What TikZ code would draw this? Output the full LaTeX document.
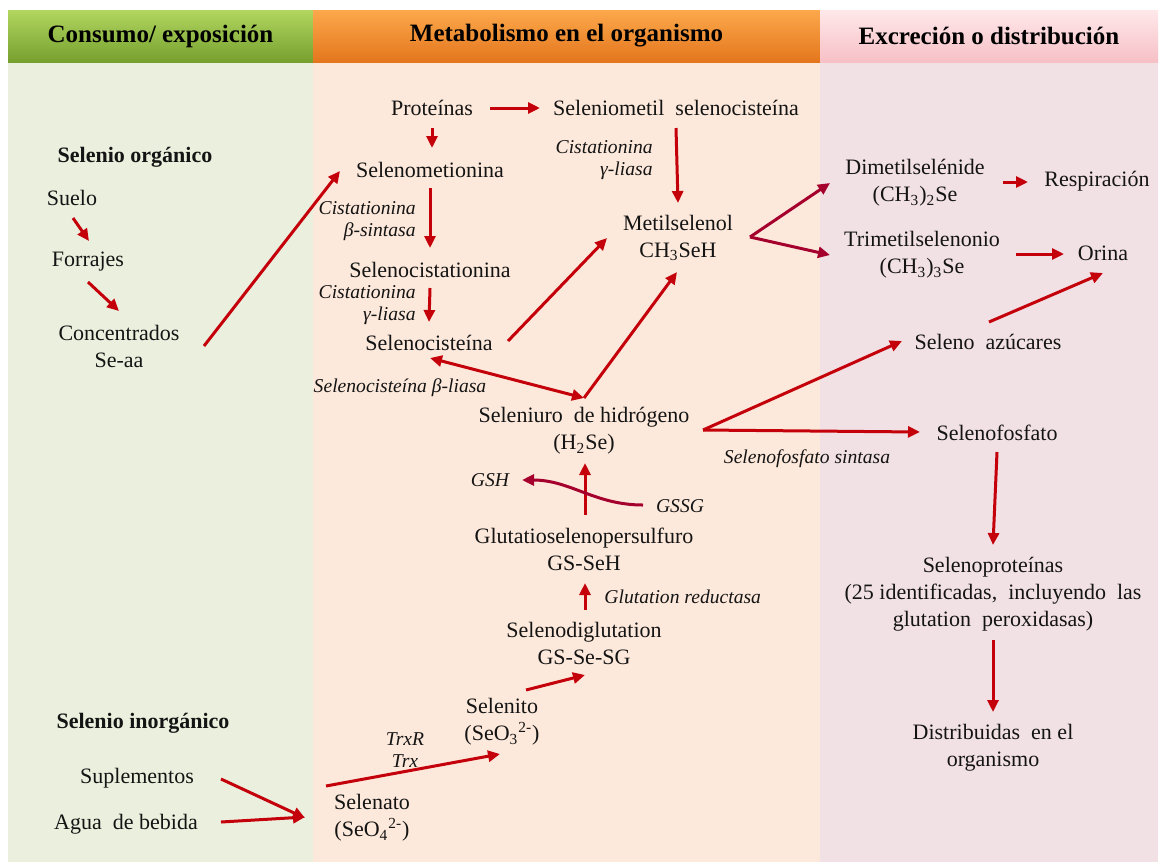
\documentclass[tikz,border=0pt]{standalone}
\usepackage{fontspec}
\setmainfont{Liberation Serif}
\usetikzlibrary{arrows.meta,calc}
\definecolor{ink}{RGB}{20,20,20}
\definecolor{arrow}{RGB}{196,0,10}
\definecolor{wine}{RGB}{165,0,45}
\definecolor{bgcons}{RGB}{235,240,222}
\definecolor{bgmeta}{RGB}{253,233,219}
\definecolor{bgexcr}{RGB}{242,225,228}
\definecolor{constop}{RGB}{178,214,96}
\definecolor{consbot}{RGB}{118,160,46}
\definecolor{metatop}{RGB}{252,168,76}
\definecolor{metabot}{RGB}{228,118,28}
\definecolor{excrtop}{RGB}{255,232,234}
\definecolor{excrbot}{RGB}{246,192,198}
\tikzset{
  txt/.style={inner sep=1pt, align=center, text=ink, font=\fontsize{11}{13.5}\selectfont},
  src/.style={txt, font=\fontsize{11}{13.5}\selectfont\bfseries},
  enz/.style={inner sep=1pt, align=right, text=ink, font=\fontsize{9.8}{11.2}\selectfont\itshape},
  head/.style={inner sep=0pt, minimum height=26pt, text=black, font=\fontsize{12.5}{14}\selectfont\bfseries},
  flow/.style={-{Triangle[length=6pt,width=5.5pt]}, line width=1.5pt, draw=arrow},
  flowdark/.style={flow, draw=wine},
  both/.style={{Triangle[length=6pt,width=5.5pt]}-{Triangle[length=6pt,width=5.5pt]}, line width=1.5pt, draw=arrow},
}

\begin{document}
\begin{tikzpicture}[x=0.5pt,y=-0.5pt]
  \useasboundingbox (0,0) rectangle (1160,863);
  % columns
  \fill[bgcons] (8,62) rectangle (313,862);
  \fill[bgmeta] (313,62) rectangle (820,862);
  \fill[bgexcr] (820,62) rectangle (1158,862);
  \node[head, top color=constop, bottom color=consbot, minimum width=152.5pt] (hcons) at (160.5,36) {Consumo/ exposición};
  \node[head, top color=metatop, bottom color=metabot, minimum width=253.5pt] (hmeta) at (566.5,36) {Metabolismo en el organismo};
  \node[head, top color=excrtop, bottom color=excrbot, minimum width=169pt] (hexcr) at (989,36) {Excreción o distribución};

  % consumo
  \node[src] (selorg) at (135,157) {Selenio orgánico};
  \node[txt] (suelo) at (72,198) {Suelo};
  \node[txt] (forrajes) at (88,262) {Forrajes};
  \node[txt] (concent) at (119,346) {Concentrados\\Se-aa};
  \node[src] (selinorg) at (143,723) {Selenio inorgánico};
  \node[txt] (suplem) at (137,778) {Suplementos};
  \node[txt] (agua) at (126,824) {Agua~ de bebida};

  % metabolismo
  \node[txt] (proteinas) at (432,108) {Proteínas};
  \node[txt] (selmetil) at (676,108) {Seleniometil~ selenocisteína};
  \node[txt] (selmet) at (430,170) {Selenometionina};
  \node[enz, anchor=east] (cisbeta) at (418,221) {Cistationina\\β-sintasa};
  \node[txt] (selcistat) at (430,270) {Selenocistationina};
  \node[enz, anchor=east] (cisgam1) at (418,305) {Cistationina\\γ-liasa};
  \node[txt] (selcis) at (429,343) {Selenocisteína};
  \node[enz, anchor=east] (cisgam2) at (655,160) {Cistationina\\γ-liasa};
  \node[txt] (metilsel) at (678,238) {Metilselenol\\CH\textsubscript{3}SeH};
  \node[enz] (liasa) at (400,388) {Selenocisteína β-liasa};
  \node[txt] (seleniuro) at (584,431) {Seleniuro~ de hidrógeno\\(H\textsubscript{2}Se)};
  \node[enz] (gsh) at (490,480) {GSH};
  \node[enz] (gssg) at (680,506) {GSSG};
  \node[txt] (glutatio) at (584,549) {Glutatioselenopersulfuro\\GS-SeH};
  \node[enz, anchor=west] (glured) at (602,597) {Glutation reductasa};
  \node[txt] (seldiglu) at (584,643) {Selenodiglutation\\GS-Se-SG};
  \node[txt] (selenito) at (502,722) {Selenito\\(SeO\textsubscript{3}\textsuperscript{2-})};
  \node[enz, align=center] (trx) at (405,750) {TrxR\\Trx};
  \node[txt] (selenato) at (372,818) {Selenato\\(SeO\textsubscript{4}\textsuperscript{2-})};
  \node[enz] (fossint) at (807,459) {Selenofosfato sintasa};

  % excrecion
  \node[txt] (dimetil) at (915,183) {Dimetilselénide\\(CH\textsubscript{3})\textsubscript{2}Se};
  \node[txt] (resp) at (1097,181) {Respiración};
  \node[txt] (trimetil) at (922,255) {Trimetilselenonio\\(CH\textsubscript{3})\textsubscript{3}Se};
  \node[txt] (orina) at (1103,253) {Orina};
  \node[txt] (azucares) at (988,342) {Seleno~ azúcares};
  \node[txt] (fosfato) at (997,433) {Selenofosfato};
  \node[txt] (selprot) at (993,594) {Selenoproteínas\\(25 identificadas,~ incluyendo~ las\\glutation~ peroxidasas)};
  \node[txt] (distrib) at (993,748) {Distribuidas~ en el\\organismo};

  \coordinate (hub) at ($(seleniuro)+(0,-33)$);
  \coordinate (split1) at ($(metilsel)+(72,-1)$);
  \coordinate (split2) at ($(seleniuro)+(119,-1)$);

  % arrows
  \draw[flow] ($(suelo)+(1,20)$) -- ($(forrajes)+(1,-21)$);
  \draw[flow] ($(forrajes)+(0,20)$) -- ($(concent)+(0,-35)$);
  \draw[flow] ($(concent)+(85,0)$) -- ($(selmet)+(-90,1)$);
  \draw[flow] ($(proteinas)+(0,20)$) -- ($(selmet)+(2,-22)$);
  \draw[flow] ($(proteinas)+(58,0)$) -- ($(selmetil)+(-136,0)$);
  \draw[flow] ($(selmet)+(0,18)$) -- ($(selcistat)+(0,-22)$);
  \draw[flow] ($(selcistat)+(0,18)$) -- ($(selcis)+(0,-21)$);
  \draw[flow] ($(selmetil)+(0,20)$) -- ($(metilsel)+(0,-35)$);
  \draw[flow] ($(selcis)+(79,-2)$) -- ($(metilsel)+(-71,0)$);
  \draw[both] ($(selcis)+(1,15)$) -- (hub);
  \draw[flow] (hub) -- ($(metilsel)+(-1,34)$);
  \draw[flowdark] (split1) -- ($(dimetil)+(-85,0)$);
  \draw[flowdark] (split1) -- ($(trimetil)+(-92,0)$);
  \draw[flow] ($(dimetil)+(88,-1)$) -- ($(resp)+(-69,1)$);
  \draw[flow] ($(trimetil)+(94,-1)$) -- ($(orina)+(-39,1)$);
  \draw[flow] ($(azucares)+(1,-20)$) -- ($(orina)+(0,20)$);
  \draw[flow] (split2) -- ($(azucares)+(-86,-1)$);
  \draw[flow] (split2) -- ($(fosfato)+(-77,-1)$);
  \draw[flow] ($(fosfato)+(0,19)$) -- ($(selprot)+(0,-49)$);
  \draw[flow] ($(selprot)+(0,46)$) -- ($(distrib)+(0,-36)$);
  \draw[flow] ($(glutatio)+(1,-34)$) -- ($(seleniuro)+(1,32)$);
  \draw[flowdark] ($(gssg)+(-37,-1)$) to[out=180,in=0] ($(gsh)+(32,0)$);
  \draw[flow] ($(seldiglu)+(1,-33)$) -- ($(glutatio)+(1,34)$);
  \draw[flow] ($(selenito)+(24,-32)$) -- ($(seldiglu)+(1,32)$);
  \draw[flow] ($(selenato)+(-46,-32)$) -- ($(selenito)+(-2,32)$);
  \draw[flow] ($(suplem)+(84,1)$) -- ($(selenato)+(-67,0)$);
  \draw[flow] ($(agua)+(95,-2)$) -- ($(selenato)+(-67,-1)$);
\end{tikzpicture}
\end{document}
